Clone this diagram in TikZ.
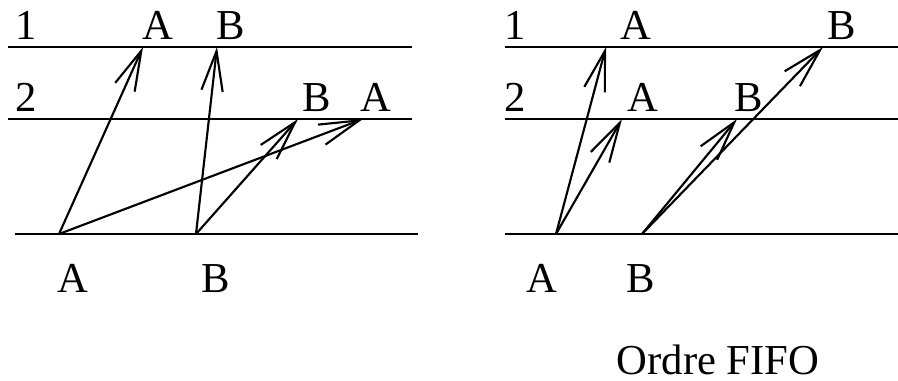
\documentclass[tikz,border=0pt]{standalone}
\usepackage{fontspec}
\setmainfont{Liberation Serif}
\usetikzlibrary{arrows.meta}

\begin{document}
\begin{tikzpicture}[x=0.75pt, y=-0.75pt,
    lbl/.style={anchor=base, inner sep=0pt, font=\fontsize{32}{36}\selectfont},
    wire/.style={line width=1.6pt},
    msg/.style={wire, -{Straight Barb[length=30pt, width=16pt]}}]
    \useasboundingbox (0,0) rectangle (898,381);

    % Left: channels
    \draw[wire] (8,47) -- (412,47);
    \draw[wire] (8,119) -- (412,119);
    \draw[wire] (15,234) -- (418,234);
    \node[lbl] (l1) at (26,40) {1};
    \node[lbl] (l2) at (26,112) {2};

    % Left: senders and receivers
    \coordinate (lsrcA) at (59,234);
    \coordinate (lsrcB) at (196,234);
    \coordinate (lA1) at (143,47);
    \coordinate (lB1) at (217,47);
    \coordinate (lB2) at (298,119);
    \coordinate (lA2) at (363,119);
    \node[lbl] (lA1txt) at (158,40) {A};
    \node[lbl] (lB1txt) at (231,40) {B};
    \node[lbl] (lB2txt) at (317,112) {B};
    \node[lbl] (lA2txt) at (376,112) {A};
    \node[lbl] (lsrcAtxt) at (73,292) {A};
    \node[lbl] (lsrcBtxt) at (216,292) {B};

    % Left: messages
    \draw[msg] (lsrcA) -- (lA1);
    \draw[msg] (lsrcA) -- (lA2);
    \draw[msg] (lsrcB) -- (lB1);
    \draw[msg] (lsrcB) -- (lB2);

    % Right: channels
    \draw[wire] (505,47) -- (898,47);
    \draw[wire] (505,119) -- (898,119);
    \draw[wire] (505,234) -- (898,234);
    \node[lbl] (r1) at (515,40) {1};
    \node[lbl] (r2) at (515,112) {2};

    % Right: senders and receivers
    \coordinate (rsrcA) at (556,234);
    \coordinate (rsrcB) at (642,234);
    \coordinate (rA1) at (606,47);
    \coordinate (rA2) at (622,119);
    \coordinate (rB2) at (737,119);
    \coordinate (rB1) at (823,47);
    \node[lbl] (rA1txt) at (636,40) {A};
    \node[lbl] (rB1txt) at (842,40) {B};
    \node[lbl] (rA2txt) at (643,112) {A};
    \node[lbl] (rB2txt) at (749,112) {B};
    \node[lbl] (rsrcAtxt) at (542,292) {A};
    \node[lbl] (rsrcBtxt) at (641,292) {B};

    % Right: messages
    \draw[msg] (rsrcA) -- (rA1);
    \draw[msg] (rsrcA) -- (rA2);
    \draw[msg] (rsrcB) -- (rB2);
    \draw[msg] (rsrcB) -- (rB1);

    % Caption
    \node[lbl, text depth=0pt] (caption) at (718,374) {Ordre FIFO};
\end{tikzpicture}
\end{document}
